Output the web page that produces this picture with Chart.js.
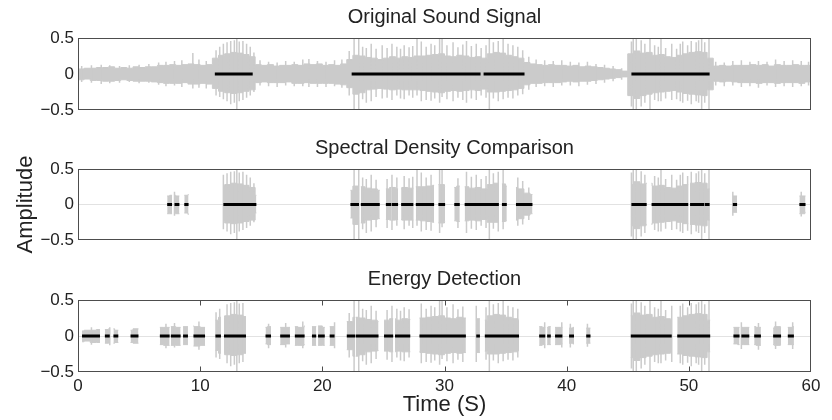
<!DOCTYPE html>
<html><head><meta charset="utf-8">
<script src="https://cdn.jsdelivr.net/npm/chart.js@4/dist/chart.umd.min.js"></script>
<style>
html,body{margin:0;padding:0;background:#fff;}
#wrap{position:relative;width:832px;height:420px;overflow:hidden;background:#fff;}
canvas{position:absolute;left:0;}
</style></head><body>
<div id="wrap">
<canvas id="c1" width="832" height="126" style="top:0px"></canvas>
<canvas id="c2" width="832" height="125" style="top:131px"></canvas>
<canvas id="c3" width="832" height="158" style="top:262px"></canvas>
</div>
<script>
// ---------- data ----------
const titles = ['Original Sound Signal', 'Spectral Density Comparison', 'Energy Detection'];
const timeTicks = [0, 10, 20, 30, 40, 50, 60];
const ampTicks = [-0.5, 0, 0.5];
const BIN = 0.5; // seconds per envelope value

// dense-core positive amplitude per 0.5 s bin (0..60 s)
const envTop = [
 .07,.08,.08,.09,.09,.10,.08,.09,.08,.10, .09,.10,.10,.12,.12,.13,.12,.13,.14,.13,
 .12,.13,.22,.26,.28,.30,.29,.27,.24,.13, .12,.13,.11,.12,.12,.13,.12,.14,.13,.14,
 .12,.13,.12,.14,.20,.26,.25,.23,.22,.20, .22,.24,.22,.24,.23,.25,.25,.26,.27,.28,
 .25,.24,.26,.25,.23,.24,.22,.28,.30,.29, .26,.24,.22,.16,.14,.13,.12,.13,.12,.12,
 .11,.12,.10,.11,.10,.09,.08,.07,.06,.04, .28,.32,.29,.30,.26,.27,.24,.23,.26,.28,
 .30,.31,.30,.22,.11,.12,.11,.12,.12,.12, .13,.12,.13,.11,.13,.12,.12,.13,.12,.12
];
// dense-core negative amplitude magnitude per 0.5 s bin
const envBot = [
 .08,.07,.09,.09,.10,.10,.09,.08,.09,.10, .10,.10,.11,.12,.13,.13,.13,.12,.14,.14,
 .13,.14,.20,.24,.26,.27,.26,.24,.22,.12, .11,.12,.12,.12,.11,.13,.13,.12,.13,.13,
 .13,.13,.14,.15,.19,.28,.26,.22,.21,.20, .21,.22,.21,.22,.22,.22,.23,.24,.25,.26,
 .24,.23,.24,.23,.22,.23,.21,.25,.25,.24, .23,.22,.20,.15,.13,.13,.12,.12,.12,.11,
 .10,.11,.10,.10,.09,.08,.07,.06,.05,.04, .30,.34,.30,.28,.26,.25,.24,.23,.25,.27,
 .28,.29,.30,.22,.10,.11,.10,.11,.12,.12, .12,.13,.12,.12,.13,.12,.12,.12,.13,.11
];

// individual peaks (spikes): time, top, bottom
const spikeT = [
 0.3,1.1,1.9,2.6,3.4,4.2,5.0,5.8,6.6,7.2,7.9,8.5,9.4,9.9,10.5,
 11.3,11.6,11.9,12.2,12.5,12.8,13.0,13.2,13.5,13.8,14.1,14.4,
 14.9,15.6,16.3,17.0,17.7,18.4,18.9,19.6,20.3,21.0,21.6,
 22.2,22.6,22.98,23.3,23.6,24.0,24.4,24.9,25.3,25.7,26.1,26.4,26.7,27.1,27.4,27.75,28.1,28.5,28.9,29.2,29.6,29.8,
 30.2,30.7,31.1,31.5,31.8,32.2,32.6,33.0,33.4,33.67,34.0,34.4,34.8,35.2,35.6,36.0,36.4,36.9,
 37.5,38.2,38.9,39.6,40.3,41.0,41.7,42.4,43.1,43.8,44.5,
 45.3,45.45,45.7,46.1,46.4,46.82,47.2,47.5,47.72,48.1,48.6,49.0,49.3,49.5,49.9,50.2,50.6,50.8,51.05,51.3,51.65,
 52.2,52.9,53.6,54.3,55.0,55.7,56.4,57.1,57.8,58.5,59.2,59.8
];
const spikeTop = [
 .11,.12,.13,.12,.11,.12,.13,.14,.16,.17,.18,.19,.29,.20,.18,
 .33,.38,.42,.44,.46,.47,.50,.45,.46,.42,.38,.30,
 .19,.17,.16,.18,.17,.20,.21,.18,.17,.19,.20,
 .32,.50,.50,.38,.36,.42,.35,.40,.36,.42,.38,.35,.40,.37,.39,.50,.45,.38,.42,.40,.49,.50,
 .40,.44,.37,.41,.46,.39,.42,.36,.40,.50,.44,.46,.50,.42,.40,.38,.33,.24,
 .20,.19,.18,.19,.17,.16,.17,.14,.13,.11,.08,
 .45,.50,.50,.47,.42,.50,.40,.38,.50,.36,.42,.35,.42,.45,.40,.46,.44,.47,.50,.44,.50,
 .17,.16,.18,.19,.17,.18,.17,.20,.18,.19,.18,.17
];
const spikeBot = [
 -.11,-.12,-.14,-.13,-.12,-.11,-.13,-.12,-.15,-.17,-.16,-.18,-.20,-.19,-.20,
 -.30,-.32,-.35,-.38,-.42,-.40,-.50,-.38,-.36,-.33,-.30,-.25,
 -.16,-.17,-.18,-.16,-.17,-.17,-.18,-.18,-.18,-.17,-.19,
 -.30,-.50,-.50,-.35,-.40,-.38,-.32,-.34,-.33,-.36,-.30,-.34,-.35,-.30,-.33,-.30,-.38,-.36,-.37,-.34,-.40,-.32,
 -.35,-.38,-.33,-.36,-.40,-.34,-.36,-.30,-.33,-.50,-.34,-.38,-.35,-.33,-.34,-.30,-.28,-.22,
 -.18,-.17,-.18,-.16,-.16,-.17,-.15,-.14,-.12,-.10,-.08,
 -.45,-.50,-.50,-.45,-.40,-.50,-.36,-.38,-.38,-.34,-.36,-.35,-.38,-.40,-.37,-.42,-.38,-.40,-.50,-.40,-.50,
 -.16,-.17,-.16,-.18,-.17,-.19,-.16,-.18,-.17,-.18,-.17,-.16
];

// detected segments [start, end] in seconds
const segOriginal = [[11.2,14.3],[22.4,32.95],[33.2,36.55],[45.3,51.7]];
const segSpectral = [[7.3,7.7],[7.9,8.3],[8.7,9.05],[11.9,14.6],[22.3,23.0],[23.15,24.7],[25.2,25.65],[25.7,26.2],[26.45,27.45],[27.65,29.15],[29.5,30.05],[30.8,31.25],[31.65,34.45],[34.7,35.1],[35.85,37.2],[45.3,46.55],[46.95,49.95],[50.1,51.25],[51.3,51.7],[53.6,53.95],[59.05,59.55]];
const segEnergy = [[0.33,1.8],[2.2,2.6],[2.9,3.3],[4.3,4.95],[6.7,7.5],[7.6,8.4],[8.6,9.0],[9.45,10.4],[11.25,11.7],[11.95,13.75],[15.35,15.8],[16.55,17.35],[17.75,18.55],[19.15,19.5],[19.65,20.2],[20.6,21.0],[22.0,22.7],[22.75,24.6],[25.05,25.8],[25.95,27.2],[27.95,31.75],[32.6,32.9],[33.3,36.1],[37.75,38.25],[38.4,38.7],[39.05,39.65],[40.2,40.6],[41.6,41.95],[45.25,48.6],[49.05,51.75],[53.65,54.15],[54.3,54.95],[55.35,55.9],[56.9,57.55],[58.1,58.6]];
const fullSpan = [[0,60]];

// ---------- helpers ----------
const GRAY = '#cbcbcb';
const FONT = "'Liberation Sans', Arial, sans-serif";
Chart.defaults.font.family = FONT;

function envelopePoints(segs, vals, sign) {
  const pts = [];
  segs.forEach(([s, e]) => {
    let t = s, y = 0;
    while (t < e - 1e-9) {
      const k = Math.min(Math.floor(t / BIN + 1e-9), vals.length - 1);
      y = sign * vals[k];
      pts.push({x: t, y: y});
      t = Math.min((k + 1) * BIN, e);
    }
    pts.push({x: e, y: y});
    pts.push({x: e, y: null});
  });
  return pts;
}
function spikePoints(segs) {
  const pts = [];
  spikeT.forEach((t, i) => {
    if (segs.some(([s, e]) => t >= s && t <= e)) {
      pts.push({x: t, y: spikeBot[i]}, {x: t, y: spikeTop[i]}, {x: t, y: null});
    }
  });
  return pts;
}
function segPoints(segs) {
  const pts = [];
  segs.forEach(([s, e]) => { pts.push({x: s, y: 0}, {x: e, y: 0}, {x: e, y: null}); });
  return pts;
}

const framePlugin = {
  id: 'frame',
  afterDatasetsDraw(chart, args, opts) {
    const {ctx, chartArea: a} = chart;
    ctx.save();
    ctx.strokeStyle = '#4d4d4d';
    ctx.lineWidth = 1;
    const l = Math.round(a.left) + 0.5, t = Math.round(a.top) + 0.5;
    const r = Math.round(a.right) - 0.5, b = Math.round(a.bottom) - 0.5;
    ctx.strokeRect(l, t, r - l, b - t);
    if (opts.ticks) {
      const xs = chart.scales.x;
      ctx.beginPath();
      xs.ticks.forEach(tk => {
        if (tk.value <= xs.min || tk.value >= xs.max) return;
        const px = Math.round(xs.getPixelForValue(tk.value)) + 0.5;
        ctx.moveTo(px, b); ctx.lineTo(px, b - 5);
        ctx.moveTo(px, t); ctx.lineTo(px, t + 5);
      });
      ctx.stroke();
    }
    ctx.restore();
  }
};

function makeChart(id, idx, grayMask, segs, isBottom) {
  return new Chart(document.getElementById(id), {
    type: 'line',
    data: {datasets: [
      {data: segPoints(segs), borderColor: '#000', borderWidth: 3, pointRadius: 0, borderCapStyle: 'butt', fill: false},
      {data: spikePoints(grayMask), borderColor: GRAY, borderWidth: 1.5, pointRadius: 0, fill: false},
      {data: envelopePoints(grayMask, envTop, 1), stepped: true, borderColor: GRAY, borderWidth: 1, backgroundColor: GRAY, fill: 'origin', pointRadius: 0},
      {data: envelopePoints(grayMask, envBot, -1), stepped: true, borderColor: GRAY, borderWidth: 1, backgroundColor: GRAY, fill: 'origin', pointRadius: 0}
    ]},
    options: {
      responsive: false, animation: false, events: [],
      layout: {padding: {left: 0, right: 21, top: 0, bottom: 0}},
      plugins: {
        legend: {display: false}, tooltip: {enabled: false},
        title: {display: true, fullSize: false, text: titles[idx], color: '#222', font: {family: FONT, size: 20, weight: 'normal'}, padding: {top: 5, bottom: 9}},
        frame: {ticks: isBottom}
      },
      scales: {
        x: {
          type: 'linear', min: 0, max: 60,
          afterBuildTicks: s => { s.ticks = timeTicks.map(v => ({value: v})); },
          grid: {display: false, drawTicks: false}, border: {display: false},
          ticks: {display: isBottom, color: '#222', font: {size: 17}, padding: 4, maxRotation: 0, autoSkip: false},
          title: {display: isBottom, text: 'Time (S)', color: '#222', font: {size: 22}, padding: {top: 0, bottom: 2}},
          afterFit: s => { s.height = isBottom ? 48 : 16; }
        },
        y: {
          min: -0.5, max: 0.5,
          afterBuildTicks: s => { s.ticks = ampTicks.map(v => ({value: v})); },
          ticks: {color: '#222', font: {size: 17}, padding: 4,
                  callback: v => v === 0 ? '0' : (v < 0 ? '\u2212' : '') + Math.abs(v)},
          grid: {color: c => (c.tick && c.tick.value === 0) ? '#e2e2e2' : 'rgba(0,0,0,0)', drawTicks: false, lineWidth: 1},
          border: {display: false},
          title: {display: idx === 1, text: 'Amplitude', color: '#222', font: {size: 22}, padding: {top: 13, bottom: 0}},
          afterFit: s => { s.width = 78; }
        }
      }
    },
    plugins: [framePlugin]
  });
}

makeChart('c1', 0, fullSpan, segOriginal, false);
makeChart('c2', 1, segSpectral, segSpectral, false);
makeChart('c3', 2, segEnergy, segEnergy, true);
</script>
</body></html>
